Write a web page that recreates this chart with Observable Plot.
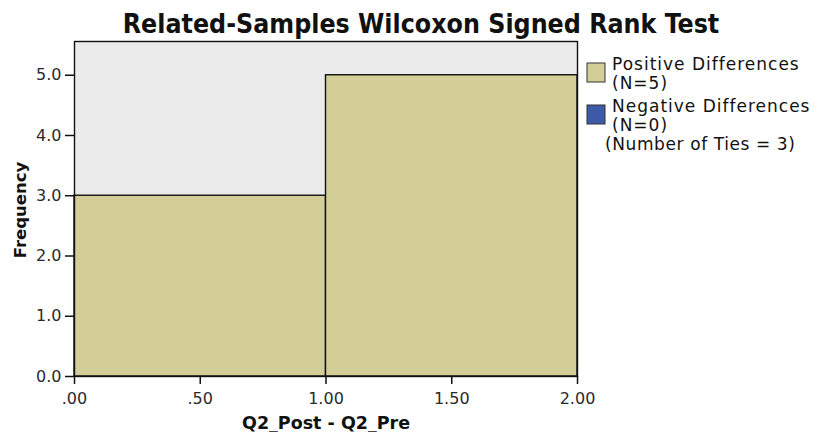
<!DOCTYPE html>
<html><head><meta charset="utf-8">
<script src="https://cdn.jsdelivr.net/npm/d3@7"></script>
<script src="https://cdn.jsdelivr.net/npm/@observablehq/plot@0.6"></script>
<style>
body{margin:0;background:#fff;}
</style></head>
<body><div id="wrap"></div>
<script>
const binStart = [0, 1];
const binEnd = [1, 2];
const frequency = [3, 5];
const xTicks = [0, 0.5, 1, 1.5, 2];
const xTickLabels = [".00", ".50", "1.00", "1.50", "2.00"];
const yTicks = [0, 1, 2, 3, 4, 5];
const titleText = "Related-Samples Wilcoxon Signed Rank Test";
const xLabel = "Q2_Post - Q2_Pre";
const yLabel = "Frequency";
const legendLines = [["Positive Differences", "(N=5)"], ["Negative Differences", "(N=0)"]];
const legendColors = ["#d3cd98", "#3d5aa8"];
const tiesNote = "(Number of Ties = 3)";

const bins = binStart.map((s, i) => ({x1: s, x2: binEnd[i], y: frequency[i]}));
const fmtX = d => xTickLabels[xTicks.indexOf(d)];

const chart = Plot.plot({
  width: 825, height: 432,
  marginLeft: 74, marginRight: 248, marginTop: 41, marginBottom: 56,
  style: {fontFamily: "'DejaVu Sans', sans-serif", color: "#222", background: "#fff"},
  x: {domain: [0, 2], label: null},
  y: {domain: [0, 5.56], label: null},
  marks: [
    Plot.frame({fill: "#ebebeb"}),
    Plot.rectY(bins, {x1: "x1", x2: "x2", y: "y", fill: legendColors[0], stroke: "#111", strokeWidth: 1.4}),
    Plot.frame({stroke: "#111", strokeWidth: 1.4}),
    Plot.axisX({ticks: xTicks, tickFormat: fmtX, tickSize: 8, fontSize: 16, tickPadding: 8, stroke: "#111", strokeWidth: 1.5, fill: "#2a2a2a", label: null}),
    Plot.axisY({ticks: yTicks, tickFormat: d => d.toFixed(1), tickSize: 9, fontSize: 16, tickPadding: 4, stroke: "#111", strokeWidth: 1.5, fill: "#2a2a2a", label: null}),
    Plot.text([xLabel], {frameAnchor: "bottom", lineAnchor: "bottom", dy: 52, fontWeight: "bold", fontSize: 17.5, fill: "#111"}),
    Plot.text([yLabel], {frameAnchor: "left", textAnchor: "middle", dx: -54, dy: 1, rotate: -90, fontWeight: "bold", fontSize: 16.5, fill: "#111"})
  ]
});
document.getElementById("wrap").appendChild(chart);

const svg = d3.select(chart);
svg.append("text").attr("x", 421).attr("y", 33).attr("text-anchor", "middle")
  .style("font-family", "'DejaVu Sans Condensed', 'DejaVu Sans', sans-serif")
  .style("font-weight", "bold").style("font-size", "26.5px").attr("fill", "#111").text(titleText);

const lg = svg.append("g").attr("text-anchor", "start").style("text-anchor", "start")
  .style("font-family", "'DejaVu Sans', sans-serif").style("font-size", "17px").style("letter-spacing", "1px").attr("fill", "#111");
const itemTop = [57, 99];
legendLines.forEach((lines, i) => {
  const t = itemTop[i];
  lg.append("rect").attr("x", 587).attr("y", t + 6).attr("width", 18).attr("height", 19)
    .attr("fill", legendColors[i]).attr("stroke", "#333").attr("stroke-width", 1);
  lines.forEach((l, j) => lg.append("text").attr("x", 612).attr("y", t + 13 + j * 19).text(l));
});
lg.append("text").attr("x", 605).attr("y", 150).style("letter-spacing", "0.6px").text(tiesNote);
</script></body></html>
